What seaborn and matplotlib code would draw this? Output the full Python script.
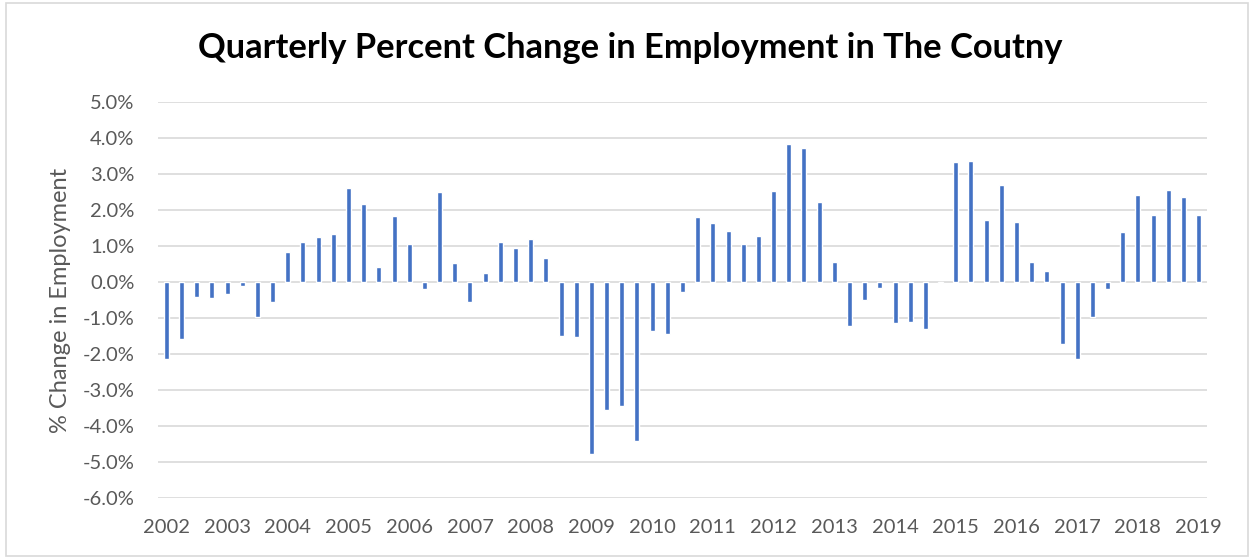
import matplotlib
matplotlib.use("Agg")
import matplotlib.pyplot as plt
from matplotlib.patches import Rectangle
from matplotlib.ticker import FuncFormatter
import numpy as np
import pandas as pd
import seaborn as sns

# Quarterly percent change in employment, 2002 Q1 through 2019 Q1
years = list(range(2002, 2020))
quarters = [f"{y}Q{q}" for y in range(2002, 2019) for q in range(1, 5)] + ["2019Q1"]
pct_change = [
    -2.13, -1.58, -0.41, -0.45,   # 2002
    -0.33, -0.12, -0.96, -0.55,   # 2003
    0.83, 1.10, 1.24, 1.32,       # 2004
    2.61, 2.18, 0.43, 1.84,       # 2005
    1.06, -0.19, 2.50, 0.52,      # 2006
    -0.56, 0.24, 1.10, 0.95,      # 2007
    1.20, 0.68, -1.50, -1.52,     # 2008
    -4.79, -3.55, -3.44, -4.42,   # 2009
    -1.36, -1.45, -0.28, 1.81,    # 2010
    1.65, 1.43, 1.05, 1.27,       # 2011
    2.54, 3.84, 3.72, 2.23,       # 2012
    0.56, -1.23, -0.50, -0.18,    # 2013
    -1.15, -1.10, -1.31, -0.03,   # 2014
    3.33, 3.36, 1.72, 2.69,       # 2015
    1.67, 0.55, 0.30, -1.71,      # 2016
    -2.13, -0.96, -0.19, 1.38,    # 2017
    2.41, 1.86, 2.55, 2.35,       # 2018
    1.87,                         # 2019
]
y_ticks = [5, 4, 3, 2, 1, 0, -1, -2, -3, -4, -5, -6]

df = pd.DataFrame({"quarter": quarters, "change": pct_change})

sns.set_theme(style="white")
plt.rcParams["font.family"] = ["Lato", "DejaVu Sans"]

fig = plt.figure(figsize=(12.5, 5.57), dpi=100)
ax = fig.add_axes([158 / 1250, 1 - 498 / 557, (1207 - 158) / 1250, (498 - 102) / 557])

sns.barplot(data=df, x="quarter", y="change", order=quarters,
            color="#4472C4", saturation=1, width=0.33, ax=ax, zorder=3)

ax.set_ylim(-6, 5)
ax.set_xlim(-0.55, len(quarters) - 0.45)
ax.set_yticks(y_ticks)
ax.yaxis.set_major_formatter(FuncFormatter(lambda v, _: f"{v:.1f}%"))
ax.set_xticks(range(0, len(quarters), 4))
ax.set_xticklabels([str(y) for y in years])

ax.grid(axis="y", color="#d9d9d9", linewidth=1.2, zorder=0)
ax.grid(axis="x", visible=False)
for s in ax.spines.values():
    s.set_visible(False)
ax.tick_params(axis="both", length=0, labelsize=14.5, colors="#595959")
ax.tick_params(axis="x", pad=15)
ax.tick_params(axis="y", pad=17)

ax.set_xlabel("")
ax.set_ylabel("% Change in Employment", fontsize=17, color="#595959", labelpad=8)

fig.text(0.504, 1 - 48 / 557, "Quarterly Percent Change in Employment in The Coutny",
         ha="center", va="center", fontsize=24.8, fontweight="bold", color="black")

# light frame around the chart area
fig.patches.append(Rectangle((6 / 1250, 0.002), 1 - 8 / 1250, 1 - 4 / 557,
                             transform=fig.transFigure, fill=False,
                             edgecolor="#d9d9d9", linewidth=1.2))

fig.savefig("out.png", dpi=100)
